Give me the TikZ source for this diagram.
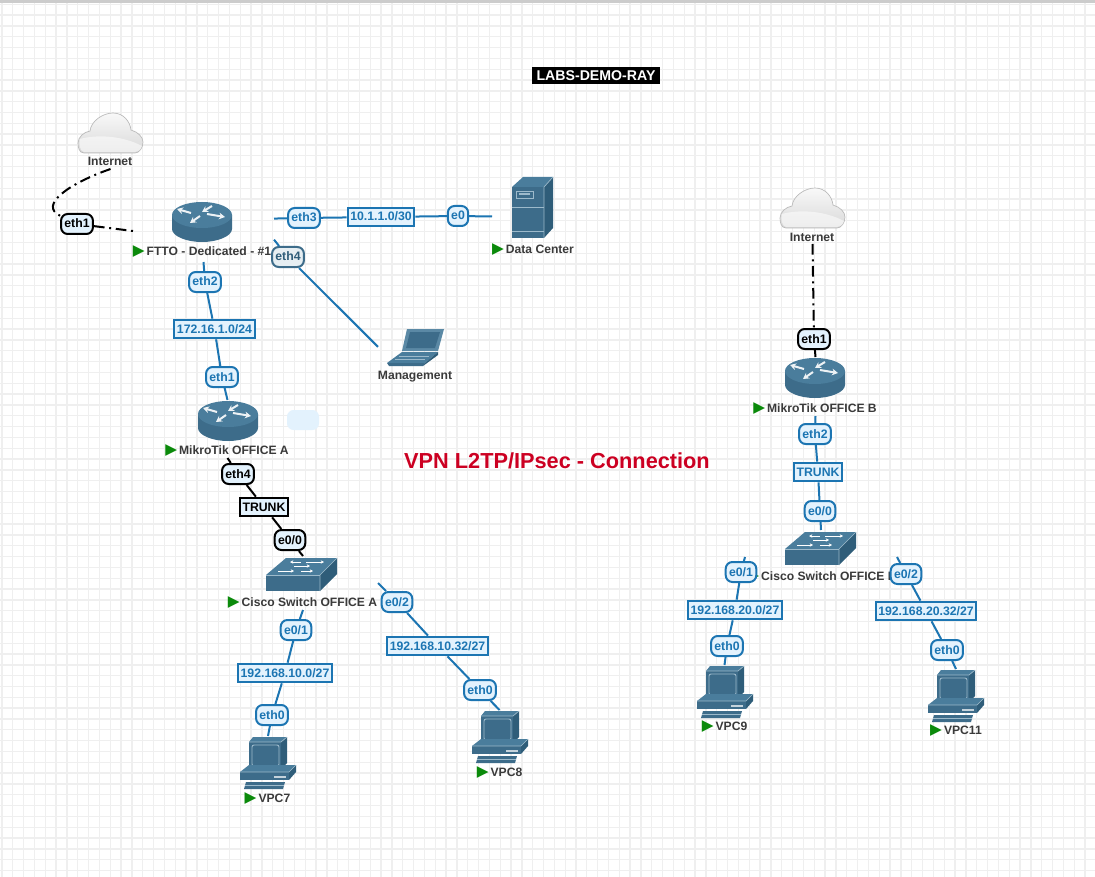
\documentclass[tikz,border=0pt]{standalone}
\usepackage{fontspec}
\setmainfont{Liberation Sans}
\newfontfamily\markfont{DejaVu Sans}
\usetikzlibrary{fit,arrows.meta}
\definecolor{devbody}{HTML}{3D6C8A}
\definecolor{devtop}{HTML}{4A7D9C}
\definecolor{devdark}{HTML}{2F5D79}
\definecolor{devline}{HTML}{9DBACB}
\definecolor{linkblue}{HTML}{1C75B2}
\definecolor{portfill}{HTML}{E3F2FD}
\definecolor{runmark}{HTML}{0B8A0B}
\definecolor{labelgray}{HTML}{3A3A3A}
\definecolor{gridgray}{HTML}{EFEFEF}
\definecolor{titlered}{HTML}{CC0022}
\newcommand{\run}{\textcolor{runmark}{\fontsize{11.5}{11}\markfont ▶}\,}
\tikzset{
  routericon/.pic={
    \fill[devbody] (0,13) -- (0,27) .. controls (0,34) and (14,40) .. (30,40) .. controls (46,40) and (60,34) .. (60,27) -- (60,13) -- cycle;
    \fill[devtop] (30,13) ellipse [x radius=30, y radius=13];
    \draw[white!90!devtop, line width=1.5pt, -{Stealth[length=4.5pt,width=5pt]}] (19,11) -- (5,7);
    \draw[white!90!devtop, line width=1.5pt, -{Stealth[length=4.5pt,width=5pt]}] (40,4) -- (30,10);
    \draw[white!90!devtop, line width=1.5pt, -{Stealth[length=4.5pt,width=5pt]}] (35,12) -- (53,15);
    \draw[white!90!devtop, line width=1.5pt, -{Stealth[length=4.5pt,width=5pt]}] (28,14) -- (18,21);
  },
  switchicon/.pic={
    \fill[devtop] (20,0) -- (71,0) -- (54,17) -- (0,17) -- cycle;
    \fill[devbody] (0,17) -- (54,17) -- (54,33) -- (0,33) -- cycle;
    \fill[devdark] (54,17) -- (71,0) -- (71,16) -- (54,33) -- cycle;
    \draw[devline, line width=.5pt] (54,33) -- (54,17) -- (71,0);
    \draw[devline, line width=.5pt] (0,17) -- (54,17);
    \foreach \ax/\ay/\bx/\by in {35/4/24/4, 40/4/58/4, 28/8/44/8, 12/13/28/13, 35/13/47/13}
      \draw[white, line width=.7pt, -{Stealth[length=2.5pt,width=2.5pt]}] (\ax,\ay) -- (\bx,\by);
  },
  vpcicon/.pic={
    \fill[devtop] (9,5) -- (13,0) -- (47,0) -- (41,5) -- cycle;
    \fill[devdark] (41,5) -- (47,0) -- (47,26) -- (41,32) -- cycle;
    \fill[devbody] (9,5) rectangle (41,32);
    \draw[devline, line width=.5pt] (9,5) -- (41,5) -- (47,0);
    \draw[devline, line width=.7pt, rounded corners=1.5pt] (12,8) rectangle (39,29);
    \fill[devtop] (0,35) -- (9,28) -- (56,28) -- (49,35) -- cycle;
    \fill[devbody] (0,35) rectangle (49,43);
    \fill[devdark] (49,35) -- (56,28) -- (56,35) -- (49,43) -- cycle;
    \draw[devline, line width=.5pt] (0,35) -- (49,35) -- (56,28);
    \fill[white, opacity=.7] (34,39) rectangle (46,40.5);
    \fill[devbody] (6,45) -- (45,45) -- (43,52) -- (4,52) -- cycle;
    \draw[devline, line width=.6pt] (5,48.5) -- (44,48.5);
  },
  servericon/.pic={
    \fill[devtop] (0,10) -- (11,0) -- (41,0) -- (32,10) -- cycle;
    \fill[devdark] (32,10) -- (41,0) -- (41,51) -- (32,61) -- cycle;
    \fill[devbody] (0,10) rectangle (32,61);
    \draw[devline, line width=.7pt] (0,30) -- (32,30);
    \draw[devline, line width=.7pt] (0,54) -- (32,54);
    \draw[devline, line width=.5pt] (32,61) -- (32,10) -- (41,0);
    \draw[devline, line width=.7pt] (4,14) rectangle (21,21);
    \fill[devline] (7,16.5) rectangle (18,18.5);
  },
  laptopicon/.pic={
    \fill[devtop!80!devline] (20,1) -- (57,1) -- (51,23) -- (15,23) -- cycle;
    \fill[devbody] (23,4) -- (53,4) -- (48,20) -- (19,20) -- cycle;
    \fill[devtop] (0,35) -- (15,24) -- (51,24) -- (38,35) -- cycle;
    \fill[devbody] (0,35) -- (38,35) -- (36,38) -- (2,38) -- cycle;
    \fill[devdark] (38,35) -- (51,24) -- (51,27) -- (36,38) -- cycle;
    \draw[devline, line width=.4pt] (12,28) -- (42,28);
    \draw[devline, line width=.4pt] (8,31) -- (38,31);
  },
  cloudicon/.pic={
    \draw[gray!55, line width=.5pt, top color=gray!5, bottom color=gray!30]
      (6,40) .. controls (1,40) and (0,34) .. (0,30) .. controls (0,24) and (6,19) .. (12,18)
      .. controls (13,8) and (25,0) .. (35,0) .. controls (45,0) and (52,8) .. (53,17)
      .. controls (60,19) and (65,24) .. (65,29) .. controls (65,35) and (61,40) .. (57,40) -- cycle;
    \fill[white, opacity=.55] (2,26) .. controls (20,21) and (45,23) .. (64,33) .. controls (63,37) and (60,39) .. (57,39) -- (6,39) .. controls (2,38) and (1,32) .. (2,26) -- cycle;
  }
}
\begin{document}
\begin{tikzpicture}[x=.75pt, y=-.75pt,
    devframe/.style={inner sep=0pt, outer sep=0pt},
    devlabel/.style={font=\fontsize{9.1}{11}\selectfont\bfseries, text=labelgray, inner sep=0pt},
    link/.style={draw=linkblue, line width=1.5pt},
    blacklink/.style={draw=black, line width=1.5pt},
    wanlink/.style={draw=black, line width=1.5pt, dash pattern=on 8pt off 3.5pt on 1.5pt off 3.5pt},
    port/.style={draw=linkblue, fill=portfill, text=linkblue, line width=1.5pt, rounded corners=5pt,
      font=\fontsize{9.2}{11}\selectfont\bfseries, inner xsep=2.5pt, inner ysep=0pt, minimum height=15pt, text height=7pt, text depth=1pt},
    blackport/.style={port, draw=black, text=black},
    net/.style={port, rounded corners=0pt, inner xsep=2pt, minimum height=14pt},
    blacknet/.style={net, draw=black, text=black}]
    \useasboundingbox (0,0) rectangle (1095,877);
    \fill[white] (0,0) rectangle (1095,877);
    \foreach \k in {0,...,101}
        \draw[gridgray, line width=1pt] ({2+10.83*\k},3) -- ({2+10.83*\k},877);
    \foreach \k in {0,...,80}
        \draw[gridgray, line width=1pt] (0,{4.2+10.83*\k}) -- (1095,{4.2+10.83*\k});
    \fill[gray!40] (0,0) rectangle (1095,3);

    \node[fill=black, text=white, font=\fontsize{10.6}{12}\selectfont\bfseries, inner sep=0pt, minimum width=96pt, minimum height=13pt] (title) at (596,75.5) {LABS-DEMO-RAY};
    \node[text=titlered, font=\fontsize{16.3}{20}\selectfont\bfseries, inner sep=0pt] (vpn) at (557,461) {VPN L2TP/IPsec - Connection};
    \node[fill=portfill, rounded corners=5pt, minimum width=24pt, minimum height=15pt, inner sep=0pt] (blank) at (303,420) {};

    \node[devframe, fit={(78,112) (143,169)}] (inetA) {};
    \node[devframe, fit={(780,188) (845,244)}] (inetB) {};
    \node[devframe, fit={(133,200) (274,262)}] (ftto) {};
    \node[devframe, fit={(492,175) (574,258)}] (dc) {};
    \node[devframe, fit={(378,327) (453,384)}] (mgmt) {};
    \node[devframe, fit={(166,400) (289,458)}] (officeA) {};
    \node[devframe, fit={(753,357) (878,416)}] (officeB) {};
    \node[devframe, fit={(228,556) (378,610)}] (swA) {};
    \node[devframe, fit={(745,530) (897,584)}] (swB) {};
    \node[devframe, fit={(240,736) (296,806)}] (vpc7) {};
    \node[devframe, fit={(472,710) (527,781)}] (vpc8) {};
    \node[devframe, fit={(696,665) (753,734)}] (vpc9) {};
    \node[devframe, fit={(928,669) (984,738)}] (vpc11) {};

    \pic at (78,113) {cloudicon};
    \pic at (780,188) {cloudicon};
    \pic at (172,202) {routericon};
    \pic at (198,401) {routericon};
    \pic at (785,358) {routericon};
    \pic at (512,177) {servericon};
    \pic at (387,328) {laptopicon};
    \pic at (266,558) {switchicon};
    \pic at (785,532) {switchicon};
    \pic at (240,737) {vpcicon};
    \pic at (472,711) {vpcicon};
    \pic at (697,666) {vpcicon};
    \pic at (928,670) {vpcicon};

    \node[devlabel] (inetA-name) at (110,161) {Internet};
    \node[devlabel] (inetB-name) at (812,237) {Internet};
    \node[devlabel] (ftto-name) at (202,252) {\run FTTO - Dedicated - \#1};
    \node[devlabel] (dc-name) at (533,250) {\run Data Center};
    \node[devlabel] (mgmt-name) at (415,377) {Management};
    \node[devlabel] (officeA-name) at (227,451) {\run MikroTik OFFICE A};
    \node[devlabel] (officeB-name) at (815,409) {\run MikroTik OFFICE B};
    \node[devlabel] (swA-name) at (302.5,603) {\run Cisco Switch OFFICE A};
    \node[devlabel] (swB-name) at (822,577) {\run Cisco Switch OFFICE B};
    \node[devlabel] (vpc7-name) at (267.5,799) {\run VPC7};
    \node[devlabel] (vpc8-name) at (499.5,773) {\run VPC8};
    \node[devlabel] (vpc9-name) at (724.5,727) {\run VPC9};
    \node[devlabel] (vpc11-name) at (956,731) {\run VPC11};

    \node[blackport] (inetA-eth1) at (77,224) {eth1};
    \node[blackport] (inetB-eth1) at (814,339) {eth1};
    \node[port] (ftto-eth3) at (304,218) {eth3};
    \node[net] (dc-net) at (381,217) {10.1.1.0/30};
    \node[port] (dc-e0) at (458,216) {e0};
    \node[port, draw=devbody, text=devdark, fill=devline!25] (ftto-eth4) at (288,257) {eth4};
    \node[port] (ftto-eth2) at (205,282) {eth2};
    \node[net] (a-net) at (214.5,329) {172.16.1.0/24};
    \node[port] (a-eth1) at (222,377) {eth1};
    \node[blackport] (a-eth4) at (238,474) {eth4};
    \node[blacknet] (a-trunk) at (264,507) {TRUNK};
    \node[blackport] (a-e00) at (290,540) {e0/0};
    \node[port] (a-e01) at (296,630) {e0/1};
    \node[net] (a-net1) at (285,673) {192.168.10.0/27};
    \node[port] (a-eth0a) at (272,715) {eth0};
    \node[port] (a-e02) at (397,602) {e0/2};
    \node[net] (a-net2) at (437.5,646) {192.168.10.32/27};
    \node[port] (a-eth0b) at (480,690) {eth0};
    \node[port] (b-eth2) at (815,434) {eth2};
    \node[net] (b-trunk) at (818,472) {TRUNK};
    \node[port] (b-e00) at (820,511) {e0/0};
    \node[port] (b-e01) at (741,572) {e0/1};
    \node[net] (b-net1) at (735,610) {192.168.20.0/27};
    \node[port] (b-eth0a) at (727,646) {eth0};
    \node[port] (b-e02) at (906,574) {e0/2};
    \node[net] (b-net2) at (926,611) {192.168.20.32/27};
    \node[port] (b-eth0b) at (947,650) {eth0};

    \draw[wanlink] (inetA.south) .. controls (70,183) and (38,205) .. (inetA-eth1);
    \draw[wanlink] (inetA-eth1) -- (ftto.west);
    \draw[wanlink] (inetB.south) -- (inetB-eth1);
    \draw[wanlink] (inetB-eth1) -- (officeB.north);
    \draw[link] (ftto.10) -- (ftto-eth3) -- (dc-net) -- (dc-e0) -- (dc.west);
    \draw[link] (ftto.-7) -- (ftto-eth4) -- (mgmt.167);
    \draw[link] (ftto.south) -- (ftto-eth2) -- (a-net) -- (a-eth1) -- (officeA.north);
    \draw[blacklink] (officeA.south) -- (a-eth4) -- (a-trunk) -- (a-e00) -- (swA.north);
    \draw[link] (swA.south) -- (a-e01) -- (a-net1) -- (a-eth0a) -- (vpc7.north);
    \draw[link] (swA.east) -- (a-e02) -- (a-net2) -- (a-eth0b) -- (vpc8.north);
    \draw[link] (officeB.south) -- (b-eth2) -- (b-trunk) -- (b-e00) -- (swB.north);
    \draw[link] (swB.west) -- (b-e01) -- (b-net1) -- (b-eth0a) -- (vpc9.north);
    \draw[link] (swB.east) -- (b-e02) -- (b-net2) -- (b-eth0b) -- (vpc11.north);
\end{tikzpicture}
\end{document}
